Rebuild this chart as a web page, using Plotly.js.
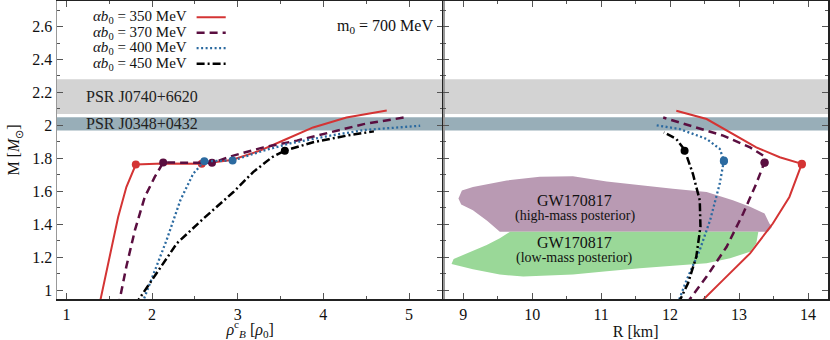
<!DOCTYPE html>
<html>
<head>
<meta charset="utf-8">
<script src="https://cdn.plot.ly/plotly-3.0.1.min.js"></script>
<style>
  html, body { margin: 0; padding: 0; background: #fff; }
  #chart { width: 830px; height: 340px; }
</style>
</head>
<body>
<div id="chart"></div>
<script>
// M vs central density (rho_B^c in units of rho_0), and M vs R
const labels = ['350', '370', '400', '450'];
const colors = ['#d43434', '#5a0e40', '#2b6aa0', '#000000'];

const rho350 = [1.38, 1.507, 1.604, 1.70, 1.81, 2.13, 2.58, 2.93, 3.26, 3.57, 3.88, 4.27, 4.74];
const m350   = [0.90, 1.204, 1.445, 1.626, 1.763, 1.769, 1.767, 1.790, 1.847, 1.918, 1.988, 2.048, 2.090];
const r350   = [12.45, 12.48, 12.77, 13.16, 13.49, 13.73, 13.91, 13.59, 13.25, 12.91, 12.53, 12.09];
const mr350  = [0.92, 0.943, 1.063, 1.224, 1.405, 1.566, 1.767, 1.807, 1.867, 1.948, 2.039, 2.089];

const rho370 = [1.605, 1.70, 1.80, 1.915, 2.03, 2.13, 2.70, 2.95, 3.30, 3.69, 4.08, 4.47, 4.94];
const m370   = [0.90, 1.144, 1.365, 1.566, 1.686, 1.775, 1.773, 1.817, 1.867, 1.908, 1.958, 2.008, 2.048];
const r370   = [12.24, 12.53, 12.82, 13.06, 13.25, 13.37, 13.35, 13.16, 12.77, 12.29, 11.90];
const mr370  = [0.92, 1.083, 1.264, 1.466, 1.647, 1.777, 1.817, 1.867, 1.938, 1.998, 2.048];

const rho400 = [1.87, 1.99, 2.17, 2.33, 2.48, 2.61, 2.94, 3.30, 3.61, 4.08, 4.47, 5.13];
const m400   = [0.90, 1.063, 1.305, 1.546, 1.707, 1.783, 1.787, 1.847, 1.891, 1.938, 1.972, 1.998];
const r400   = [12.11, 12.24, 12.43, 12.58, 12.72, 12.78, 12.72, 12.53, 12.14, 11.79];
const mr400  = [0.92, 1.063, 1.244, 1.425, 1.647, 1.787, 1.858, 1.918, 1.978, 2.002];

const rho450 = [1.80, 2.05, 2.29, 2.60, 2.95, 3.18, 3.40, 3.55, 3.88, 4.27, 4.59];
const m450   = [0.91, 1.104, 1.285, 1.435, 1.596, 1.717, 1.807, 1.847, 1.898, 1.938, 1.964];
const r450   = [12.12, 12.26, 12.38, 12.44, 12.43, 12.33, 12.21, 12.09, 11.91];
const mr450  = [0.92, 1.043, 1.204, 1.385, 1.546, 1.707, 1.852, 1.918, 1.958];

// phase transition markers
const dotRho = [[1.81, 2.58], [2.13, 2.70], [2.61, 2.94], [3.55]];
const dotM   = [[1.763, 1.767], [1.775, 1.773], [1.783, 1.787], [1.847]];
const dotR   = [[13.91, 13.91], [13.37, 13.37], [12.78, 12.78], [12.21]];

// pulsar mass bands [low, high]
const psrNames = ['PSR J0740+6620', 'PSR J0348+0432'];
const psrBands = [[2.07, 2.28], [1.97, 2.05]];
const psrColors = ['#d3d3d3', '#98aeb8'];

// GW170817 posterior regions (outline)
const gwHighR = [9.53, 13.42, 13.48, 13.44, 13.37, 13.16, 12.91, 12.53, 12.04, 11.56, 11.08, 10.59, 10.11, 9.63, 9.14, 8.98, 8.93, 8.97, 9.14, 9.35, 9.53];
const gwHighM = [1.355, 1.355, 1.385, 1.405, 1.466, 1.506, 1.546, 1.596, 1.616, 1.636, 1.660, 1.691, 1.688, 1.666, 1.626, 1.606, 1.556, 1.520, 1.486, 1.420, 1.355];
const gwLowR  = [9.68, 13.28, 13.25, 13.16, 12.87, 12.53, 12.04, 11.56, 11.08, 10.59, 9.87, 9.53, 9.14, 8.83, 8.86, 9.05, 9.34, 9.53, 9.68];
const gwLowM  = [1.355, 1.355, 1.285, 1.234, 1.194, 1.164, 1.148, 1.134, 1.115, 1.095, 1.083, 1.095, 1.128, 1.160, 1.190, 1.224, 1.274, 1.315, 1.355];

const rhoSets = [rho350, rho370, rho400, rho450];
const mSets = [m350, m370, m400, m450];
const rSets = [r350, r370, r400, r450];
const mrSets = [mr350, mr370, mr400, mr450];
const dashes = ['solid', '8px,5px', '2px,2.5px', '8px,3px,2px,3px'];
const widths = [2, 2.5, 2.3, 2.5];

const serif = 'Liberation Serif';

const traces = [
  {
    x: gwHighR, y: gwHighM, xaxis: 'x2', yaxis: 'y2',
    mode: 'lines', fill: 'toself', fillcolor: '#b99ab3',
    line: { width: 0 }, hoverinfo: 'skip'
  },
  {
    x: gwLowR, y: gwLowM, xaxis: 'x2', yaxis: 'y2',
    mode: 'lines', fill: 'toself', fillcolor: '#9ad898',
    line: { width: 0 }, hoverinfo: 'skip'
  }
];

const shapes = psrBands.map((b, i) => ({
  type: 'rect', xref: 'paper', yref: 'y', x0: 0, x1: 1, y0: b[0], y1: b[1],
  fillcolor: psrColors[i], line: { width: 0 }, layer: 'below'
}));

const annotations = psrNames.map((n, i) => ({
  text: n, x: 1.2, xanchor: 'left', y: (psrBands[i][0] + psrBands[i][1]) / 2,
  xref: 'x', yref: 'y', showarrow: false, font: { family: serif, size: 16, color: '#222' }
}));

// legend drawn by hand: label on the left, line sample on the right
const legendRows = [2.656, 2.563, 2.469, 2.375];

labels.forEach((lab, i) => {
  const line = { color: colors[i], width: widths[i], dash: dashes[i] };
  traces.push({
    x: rhoSets[i], y: mSets[i], xaxis: 'x', yaxis: 'y',
    mode: 'lines', line: line
  });
  traces.push({
    x: rSets[i], y: mrSets[i], xaxis: 'x2', yaxis: 'y2',
    mode: 'lines', line: line
  });
  traces.push({
    x: dotRho[i], y: dotM[i], xaxis: 'x', yaxis: 'y',
    mode: 'markers', marker: { color: colors[i], size: 8 }
  });
  traces.push({
    x: dotR[i], y: dotM[i], xaxis: 'x2', yaxis: 'y2',
    mode: 'markers', marker: { color: colors[i], size: 8 }
  });
  annotations.push({
    text: '<i>αb</i><sub>0</sub> = ' + lab + ' MeV', x: 2.43, xanchor: 'right',
    y: legendRows[i], xref: 'x', yref: 'y', showarrow: false,
    font: { family: serif, size: 15, color: '#111' }
  });
  shapes.push({
    type: 'line', xref: 'x', yref: 'y', x0: 2.52, x1: 2.86,
    y0: legendRows[i], y1: legendRows[i], line: line
  });
});

annotations.push(
  { text: 'm<sub>0</sub> = 700 MeV', x: 5.3, xanchor: 'right', y: 2.6, xref: 'x', yref: 'y',
    showarrow: false, font: { family: serif, size: 16, color: '#111' } },
  { text: 'GW170817', x: 10.62, y: 1.545, xref: 'x2', yref: 'y2', showarrow: false,
    font: { family: serif, size: 16, color: '#111' } },
  { text: '(high-mass posterior)', x: 10.62, y: 1.45, xref: 'x2', yref: 'y2', showarrow: false,
    font: { family: serif, size: 14, color: '#111' } },
  { text: 'GW170817', x: 10.62, y: 1.29, xref: 'x2', yref: 'y2', showarrow: false,
    font: { family: serif, size: 16, color: '#111' } },
  { text: '(low-mass posterior)', x: 10.62, y: 1.195, xref: 'x2', yref: 'y2', showarrow: false,
    font: { family: serif, size: 14, color: '#111' } }
);

const yRange = [0.947, 2.755];
const tickFont = { family: serif, size: 16, color: '#111' };

const commonAxis = {
  ticks: 'inside', ticklen: 6, tickcolor: '#555', tickwidth: 1,
  showline: true, mirror: 'ticks', linewidth: 1.5,
  showgrid: false, zeroline: false, tickfont: tickFont
};

const layout = {
  width: 830, height: 340,
  margin: { l: 57, r: 2, t: 1, b: 41 },
  paper_bgcolor: '#fff', plot_bgcolor: 'rgba(0,0,0,0)',
  font: { family: serif, size: 16, color: '#111' },
  showlegend: false,
  xaxis: Object.assign({}, commonAxis, {
    domain: [0, 0.501], range: [0.89, 5.4], dtick: 1, linecolor: '#222',
    minor: { ticks: 'inside', ticklen: 3, dtick: 0.5, tickcolor: '#555' },
    title: { text: '<i>ρ</i><sup>c</sup><sub><i>B</i></sub> [<i>ρ</i><sub>0</sub>]', standoff: 4, font: { family: serif, size: 16 } }
  }),
  yaxis: Object.assign({}, commonAxis, {
    range: yRange, dtick: 0.2, linecolor: '#999',
    minor: { ticks: 'inside', ticklen: 3, dtick: 0.1, tickcolor: '#555' },
    title: { text: 'M [<i>M</i><sub>⊙</sub>]', standoff: 8, font: { family: serif, size: 16 } }
  }),
  xaxis2: Object.assign({}, commonAxis, {
    domain: [0.501, 1], range: [8.71, 14.29], dtick: 1, anchor: 'y2', linecolor: '#222',
    minor: { ticks: 'inside', ticklen: 3, dtick: 0.5, tickcolor: '#555' },
    title: { text: 'R [km]', standoff: 4, font: { family: serif, size: 16 } }
  }),
  yaxis2: Object.assign({}, commonAxis, {
    range: yRange, dtick: 0.2, anchor: 'x2', showticklabels: false, linecolor: '#222',
    minor: { ticks: 'inside', ticklen: 3, dtick: 0.1, tickcolor: '#555' }
  }),
  shapes: shapes,
  annotations: annotations
};

Plotly.newPlot('chart', traces, layout, { displayModeBar: false, staticPlot: true });
</script>
</body>
</html>
